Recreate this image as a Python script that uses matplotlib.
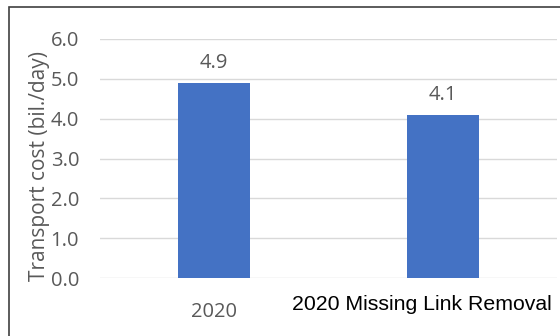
import matplotlib.pyplot as plt
import matplotlib.transforms as mtransforms
from matplotlib.patches import Rectangle

# data
categories = ['2020', '2020 Missing Link Removal']
costs = [4.9, 4.1]
yticks = [0, 1, 2, 3, 4, 5, 6]

gray = '#595959'

fig = plt.figure(figsize=(5.6, 3.36), dpi=100)
ax = fig.add_axes([100/560, 1-278/336, 457/560, (278-39)/336])

x = list(range(len(categories)))
bars = ax.bar(x, costs, width=0.315, color='#4472C4', zorder=3)
ax.bar_label(bars, labels=['%.1f' % v for v in costs], padding=7,
             fontsize=14.5, color=gray, family='Open Sans')

ax.set_xlim(-0.5, 1.5)
ax.set_ylim(0, 6)
ax.set_yticks(yticks)
ax.set_yticklabels(['%.1f' % t for t in yticks], fontsize=14.5, color=gray, family='Open Sans')
ax.tick_params(axis='y', length=0, pad=15)
ax.tick_params(axis='x', length=0)
ax.grid(axis='y', color='#D9D9D9', linewidth=1, zorder=0)
for s in ax.spines.values():
    s.set_visible(False)

ax.set_ylabel('Transport cost (bil./day)', fontsize=15, color=gray, family='Open Sans')
ax.yaxis.set_label_coords(-0.109, 0.47)

ax.set_xticks(x)
ax.set_xticklabels(categories)
lab = ax.get_xticklabels()
lab[0].set_fontsize(14.5)
lab[0].set_color(gray)
lab[0].set_family('Open Sans')
lab[0].set_transform(lab[0].get_transform() + mtransforms.ScaledTranslation(0, -0.19, fig.dpi_scale_trans))
lab[1].set_fontsize(15.3)
lab[1].set_color('black')
lab[1].set_family('Liberation Sans')
lab[1].set_transform(lab[1].get_transform() + mtransforms.ScaledTranslation(-0.21, -0.12, fig.dpi_scale_trans))

# chart border
fig.add_artist(Rectangle((8.5/560, -0.1), 1.2, 1-6.5/336+0.1, transform=fig.transFigure,
                         fill=False, edgecolor='#404040', linewidth=1.2))

plt.savefig('out.png')
